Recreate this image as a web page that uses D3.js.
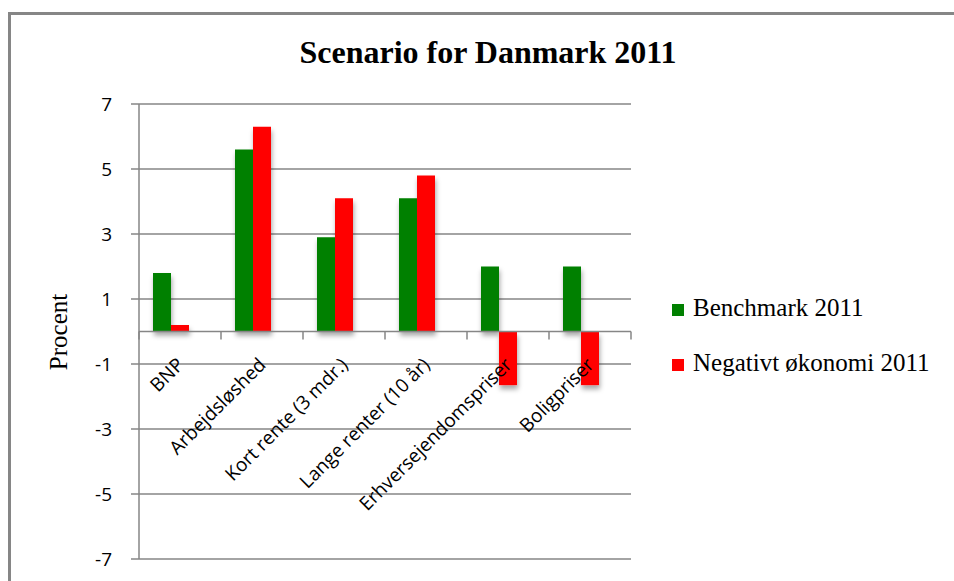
<!DOCTYPE html>
<html>
<head>
<meta charset="utf-8">
<script src="https://cdn.jsdelivr.net/npm/d3@7"></script>
<style>
  body { margin: 0; background: #fff; }
  svg { display: block; }
  .grid line { stroke: #868686; stroke-width: 1.5; }
  .ylab { font-family: "Open Sans", sans-serif; font-size: 19px; fill: #000; }
  .xlab { font-family: "Open Sans", sans-serif; font-size: 19px; fill: #000; }
  .serif { font-family: "Liberation Serif", "Times New Roman", serif; fill: #000; }
</style>
</head>
<body>
<div id="chart"></div>
<script>
var categories = ["BNP", "Arbejdsløshed", "Kort rente (3 mdr.)", "Lange renter (10 år)",
                  "Erhversejendomspriser", "Boligpriser"];
var seriesNames = ["Benchmark 2011", "Negativt økonomi 2011"];
var benchmark = [1.8, 5.6, 2.9, 4.1, 2.0, 2.0];
var negativ = [0.2, 6.3, 4.1, 4.8, -1.65, -1.65];
var yTicks = [-7, -5, -3, -1, 1, 3, 5, 7];
var colors = ["#008000", "#ff0000"];

var width = 954, height = 581;
var plotLeft = 139, plotRight = 631, plotTop = 104, plotBottom = 559;
var barW = 18;
var groupShift = 14; // bars sit a little left of the category centre

var svg = d3.select("#chart").append("svg")
    .attr("width", width).attr("height", height);

var defs = svg.append("defs");
defs.append("filter").attr("id", "shadow")
    .attr("x", "-30%").attr("y", "-30%").attr("width", "170%").attr("height", "170%")
  .append("feDropShadow")
    .attr("dx", 1).attr("dy", 4).attr("stdDeviation", 2.5)
    .attr("flood-color", "#000").attr("flood-opacity", 0.35);

// outer frame (top and left edges only are visible)
svg.append("line").attr("x1", 9.5).attr("y1", 13.5).attr("x2", width).attr("y2", 13.5)
    .style("stroke", "#868686").style("stroke-width", 3);
svg.append("line").attr("x1", 9.5).attr("y1", 12).attr("x2", 9.5).attr("y2", height)
    .style("stroke", "#868686").style("stroke-width", 3);

var y = d3.scaleLinear().domain([-7, 7]).range([plotBottom, plotTop]);
var x0 = d3.scaleBand().domain(categories).range([plotLeft, plotRight]);
var x1 = d3.scaleBand().domain(seriesNames).range([0, barW * 2]);

// gridlines + y labels
var grid = svg.append("g").attr("class", "grid");
grid.selectAll("line").data(yTicks).enter().append("line")
    .attr("x1", plotLeft - 8).attr("x2", plotRight)
    .attr("y1", function(d) { return y(d); })
    .attr("y2", function(d) { return y(d); });

svg.selectAll(".ylab").data(yTicks).enter().append("text")
    .attr("class", "ylab")
    .attr("x", 112).attr("y", function(d) { return y(d); })
    .attr("dy", "0.35em")
    .attr("text-anchor", "end")
    .text(function(d) { return d; });

// bars
var rows = categories.map(function(c, i) {
  return { cat: c, vals: [benchmark[i], negativ[i]] };
});

var groups = svg.selectAll(".grp").data(rows).enter().append("g")
    .attr("class", "grp")
    .attr("filter", "url(#shadow)")
    .attr("transform", function(d) {
      return "translate(" + (x0(d.cat) + groupShift) + ",0)";
    });

groups.selectAll("rect")
    .data(function(d) {
      return d.vals.map(function(v, j) { return { s: seriesNames[j], v: v, j: j }; });
    })
    .enter().append("rect")
    .attr("x", function(d) { return x1(d.s); })
    .attr("width", x1.bandwidth())
    .attr("y", function(d) { return y(Math.max(0, d.v)); })
    .attr("height", function(d) { return Math.abs(y(d.v) - y(0)); })
    .style("fill", function(d) { return colors[d.j]; });

// axes
svg.append("line").attr("x1", plotLeft).attr("x2", plotLeft)
    .attr("y1", plotTop).attr("y2", plotBottom)
    .style("stroke", "#868686").style("stroke-width", 1.5);
svg.append("line").attr("x1", plotLeft).attr("x2", plotRight)
    .attr("y1", y(0)).attr("y2", y(0))
    .style("stroke", "#868686").style("stroke-width", 1.5);

var tickXs = categories.map(function(c) { return x0(c); }).concat([plotRight]);
svg.selectAll(".xtick").data(tickXs).enter().append("line")
    .attr("class", "xtick")
    .attr("x1", function(d) { return d; }).attr("x2", function(d) { return d; })
    .attr("y1", y(0)).attr("y2", y(0) + 8)
    .style("stroke", "#868686").style("stroke-width", 1.5);

svg.selectAll(".xlab").data(categories).enter().append("text")
    .attr("class", "xlab")
    .attr("text-anchor", "end")
    .attr("transform", function(d) {
      var cx = x0(d) + x0.bandwidth() / 2 + 5;
      return "translate(" + cx + "," + 366 + ") rotate(-45)";
    })
    .text(function(d) { return d; });

// title
svg.append("text").attr("class", "serif")
    .attr("x", 488).attr("y", 63)
    .attr("text-anchor", "middle")
    .style("font-size", "32px").style("font-weight", "bold")
    .attr("textLength", 377).attr("lengthAdjust", "spacingAndGlyphs")
    .text("Scenario for Danmark 2011");

// y title
svg.append("text").attr("class", "serif")
    .attr("transform", "translate(67,332) rotate(-90)")
    .attr("text-anchor", "middle")
    .style("font-size", "25px")
    .text("Procent");

// legend
var legend = svg.selectAll(".leg").data(seriesNames).enter().append("g")
    .attr("class", "leg")
    .attr("transform", function(d, i) { return "translate(672," + (316 + i * 55) + ")"; });

legend.append("rect")
    .attr("x", 0).attr("y", -12).attr("width", 12).attr("height", 12)
    .style("fill", function(d, i) { return colors[i]; });

legend.append("text").attr("class", "serif")
    .attr("x", 21).attr("y", 0)
    .style("font-size", "25px")
    .text(function(d) { return d; });
</script>
</body>
</html>
